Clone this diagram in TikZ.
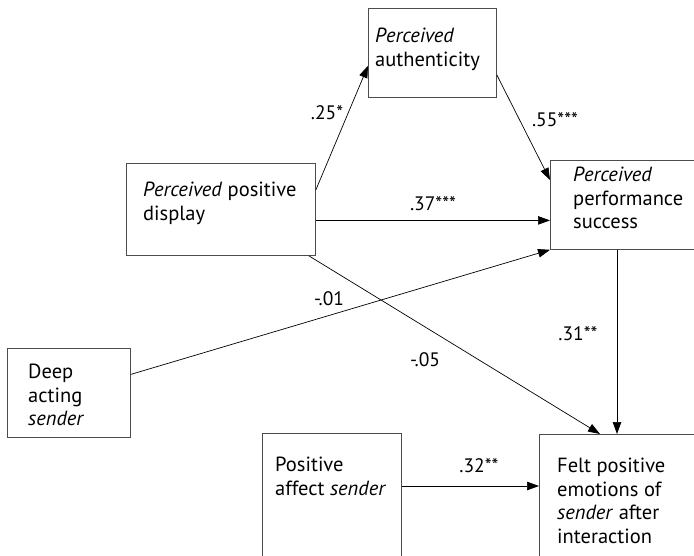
\documentclass[tikz,border=0pt]{standalone}
\usepackage{fontspec}
\setmainfont{PT Sans}
\usetikzlibrary{arrows.meta,calc}

\tikzset{
  varbox/.style={draw=black!70, line width=0.8pt, anchor=north west, inner sep=0pt},
  vartext/.style={anchor=north west, align=left, inner sep=0pt, font=\fontsize{20.5}{23.5}\selectfont},
  link/.style={-{Triangle[length=12pt,width=8.5pt]}, line width=0.7pt},
  coef/.style={inner sep=0pt, font=\fontsize{19.5}{22}\selectfont}
}

\begin{document}
\begin{tikzpicture}[x=1pt,y=-1pt]
		\useasboundingbox (0,0) rectangle (694,556);
		\clip (0,0) rectangle (694,556);
		% boxes
		\node[varbox, minimum width=128pt, minimum height=89pt] (auth) at (368,8) {};
		\node[varbox, minimum width=189pt, minimum height=92pt] (disp) at (126,163) {};
		\node[varbox, minimum width=170pt, minimum height=89pt] (perf) at (550,160) {};
		\node[varbox, minimum width=123pt, minimum height=89pt] (deep) at (7,348) {};
		\node[varbox, minimum width=139pt, minimum height=170pt] (affect) at (262,433) {};
		\node[varbox, minimum width=180pt, minimum height=170pt] (felt) at (539,434) {};
		% texts
		\node[vartext] (authtxt) at (375,28) {\textit{Perceived}\\authenticity};
		\node[vartext] (disptxt) at (143,182) {\textit{Perceived} positive\\display};
		\node[vartext] (perftxt) at (573,167) {\textit{Perceived}\\performance\\success};
		\node[vartext] (deeptxt) at (28,364) {Deep\\acting\\\textit{sender}};
		\node[vartext] (affecttxt) at (275,457) {Positive\\affect \textit{sender}};
		\node[vartext] (felttxt) at (557,458) {Felt positive\\emotions of\\\textit{sender} after\\interaction};
		% paths
		\draw[link] ([yshift=-27pt]disp.north east) -- ([yshift=32pt]auth.south west);
		\draw[link] ([yshift=-22pt]auth.east) -- ([yshift=-20pt]perf.north west);
		\draw[link] ([yshift=-11pt]disp.east) -- ([yshift=-11pt]disp.east -| perf.west);
		\draw[link] ([yshift=18.5pt]deep.east) -- (perf.south west);
		\draw[link] ([xshift=-7pt]disp.south east) -- ([xshift=61pt]felt.north west);
		\draw[link] ([xshift=67pt]perf.south west) -- ([xshift=67pt]perf.south west |- felt.north);
		\draw[link] ([yshift=-53pt]affect.north east) -- ([yshift=-53pt]affect.north east -| felt.west);
		% coefficients
		\node[coef] (c1) at (327,113) {.25*};
		\node[coef] (c2) at (555,120) {.55***};
		\node[coef] (c3) at (433,204) {.37***};
		\node[coef] (c4) at (329,299) {-.01};
		\node[coef] (c5) at (425,360) {-.05};
		\node[coef] (c6) at (578,334) {.31**};
		\node[coef] (c7) at (479,466) {.32**};
\end{tikzpicture}
\end{document}
